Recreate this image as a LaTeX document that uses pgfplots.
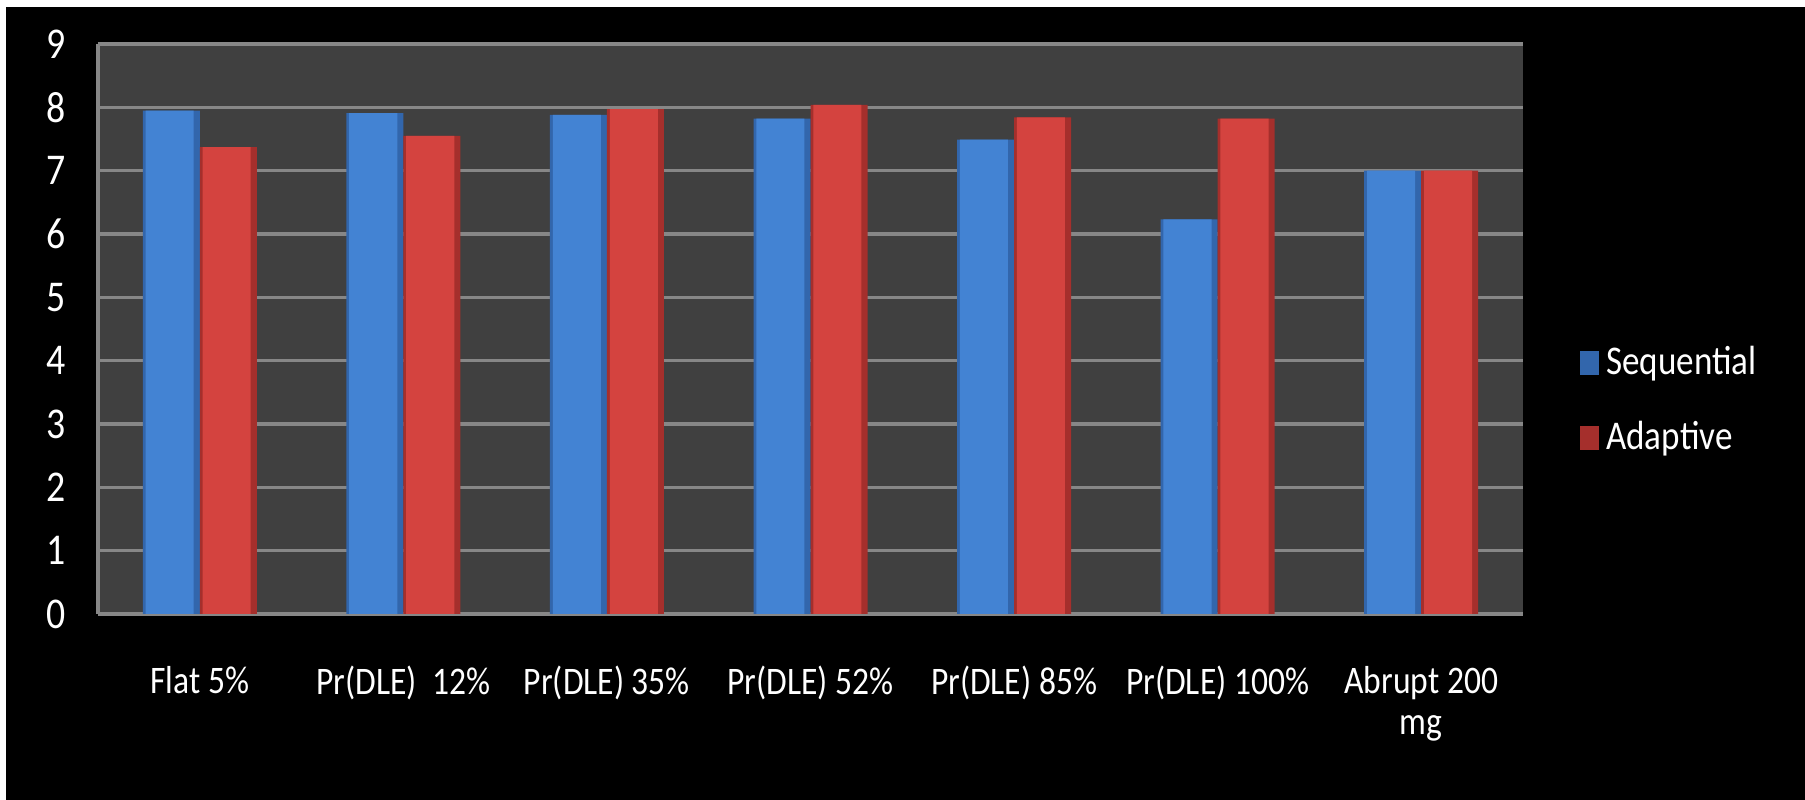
\documentclass[border=0pt]{standalone}
\usepackage{pgfplots}
\pgfplotsset{compat=1.18}
\usepackage{fontspec}
\setmainfont{Carlito}
\newfontfamily\condfont[FakeStretch=0.86]{Carlito}
\definecolor{bgplot}{HTML}{404040}
\definecolor{gridc}{HTML}{878787}
\definecolor{seqmid}{HTML}{4383D3}
\definecolor{seqedge}{HTML}{3266AC}
\definecolor{adamid}{HTML}{D4433F}
\definecolor{adaedge}{HTML}{A52F2C}
\pgfplotstableread{
x seq ada
0 7.95 7.37
1 7.91 7.55
2 7.88 7.97
3 7.82 8.04
4 7.49 7.84
5 6.23 7.82
6 7.00 7.00
}\datatable
\begin{document}
\begin{tikzpicture}
\fill[white] (0,0) rectangle (18.05,8);
\fill[black] (0.06,0) rectangle (18.05,7.93);
\begin{axis}[
  at={(0.98cm,1.86cm)}, anchor=south west,
  scale only axis, width=14.25cm, height=5.70cm,
  xmin=-0.5, xmax=6.5, ymin=0, ymax=9,
  ytick={0,1,...,9},
  xtick={0,1,2,3,4,5,6},
  xticklabels={{Flat 5\%},{Pr(DLE)\ \ 12\%},{Pr(DLE) 35\%},{Pr(DLE) 52\%},{Pr(DLE) 85\%},{Pr(DLE) 100\%},{Abrupt 200\\mg}},
  major tick length=0pt,
  axis background/.style={fill=bgplot},
  ymajorgrids, grid style={gridc, line width=0.9pt},
  axis x line*=bottom, axis y line*=left,
  axis line style={gridc, line width=0.9pt},
  /pgf/number format/assume math mode=true,
  yticklabel style={text=white, font=\condfont\fontsize{12.5pt}{14pt}\selectfont, anchor=center, xshift=-0.42cm},
  xticklabel style={text=white, font=\condfont\fontsize{11.1pt}{11.8pt}\selectfont, align=center, anchor=north, yshift=-0.40cm},
  ybar, bar width=0.28,
  legend style={at={(1,0.3745)}, anchor=west, xshift=0.46cm, draw=none, fill=none,
    text=white, font=\condfont\fontsize{11.6pt}{13pt}\selectfont, row sep=0.28cm},
  legend cell align=left,
  legend image code/.code={\fill[#1] (0cm,-0.12cm) rectangle (0.19cm,0.12cm);},
]
\addplot[bar shift=-0.14, bar width=0.28, fill=seqedge, draw=none] table[x=x, y=seq] {\datatable};
\addplot[bar shift=0.14, bar width=0.28, fill=adaedge, draw=none] table[x=x, y=ada] {\datatable};
\addplot[forget plot, bar shift=-0.148, bar width=0.236, fill=seqmid, draw=none] table[x=x, y=seq] {\datatable};
\addplot[forget plot, bar shift=0.132, bar width=0.236, fill=adamid, draw=none] table[x=x, y=ada] {\datatable};
\legend{Sequential, Adaptive}
\end{axis}
\end{tikzpicture}
\end{document}
